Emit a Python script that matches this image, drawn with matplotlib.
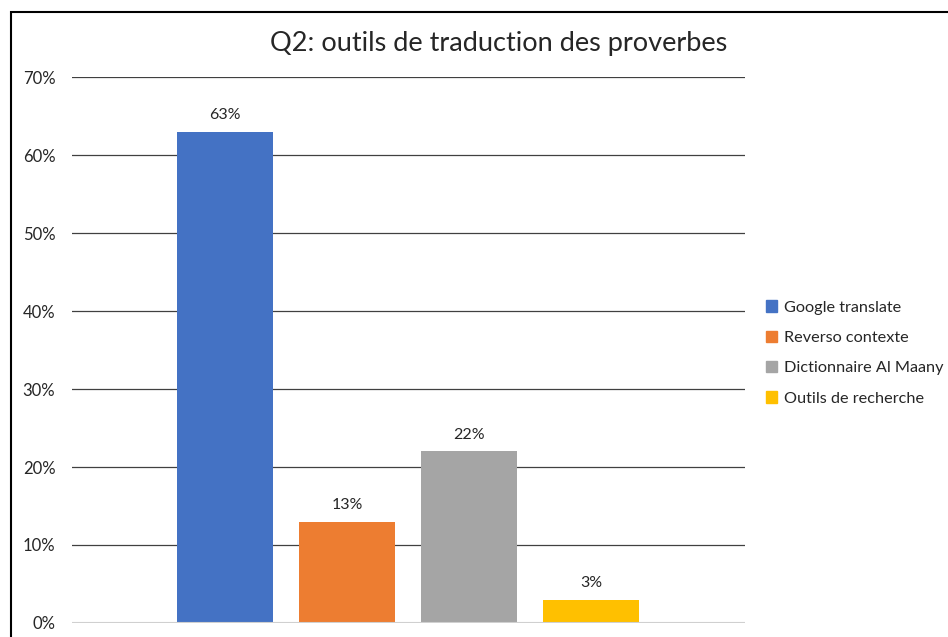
import matplotlib.pyplot as plt
from matplotlib.patches import Rectangle, Patch

# data
categories = ['Google translate', 'Reverso contexte', 'Dictionnaire Al Maany', 'Outils de recherche']
values = [63, 13, 22, 3]
colors = ['#4472c4', '#ed7d31', '#a5a5a5', '#ffc000']
yticks = [0, 10, 20, 30, 40, 50, 60, 70]

plt.rcParams['font.family'] = ['Lato', 'DejaVu Sans']

fig = plt.figure(figsize=(9.48, 6.37), dpi=100)
ax = fig.add_axes([0.076, 0.022, 0.710, 0.857])

xpos = range(len(values))
for x, v, c, lab in zip(xpos, values, colors, categories):
    ax.bar(x, v, width=0.787, color=c, label=lab, zorder=3)
    ax.text(x, v + 1.2, f'{v}%', ha='center', va='bottom', fontsize=11.5, color='#262626')

ax.set_xlim(-1.254, 4.262)
ax.set_ylim(0, 70)
ax.set_yticks(yticks)
ax.set_yticklabels([f'{t}%' for t in yticks], fontsize=12, color='#262626')
ax.set_xticks([])
ax.tick_params(axis='y', length=0, pad=12)
for t in yticks[1:]:
    ax.axhline(t, color='#404040', lw=0.9, zorder=1)
ax.axhline(0, color='#d0d0d0', lw=1.5, zorder=4)
for s in ax.spines.values():
    s.set_visible(False)

fig.text(0.526, 0.932, 'Q2: outils de traduction des proverbes', ha='center', va='center',
         fontsize=19.5, color='#262626')

handles = [Patch(color=c) for c in colors]
fig.legend(handles, categories, loc='center left', bbox_to_anchor=(0.801, 0.446),
           frameon=False, fontsize=11.7, handlelength=0.7, handleheight=0.7,
           handletextpad=0.4, labelspacing=0.98, borderaxespad=0, labelcolor='#262626')

# chart border
fig.patches.append(Rectangle((11 / 948, -0.1), 1.2, 1 - 12 / 637 + 0.1,
                             transform=fig.transFigure, fill=False, ec='black', lw=1.5))

fig.savefig('out.png', dpi=100)
